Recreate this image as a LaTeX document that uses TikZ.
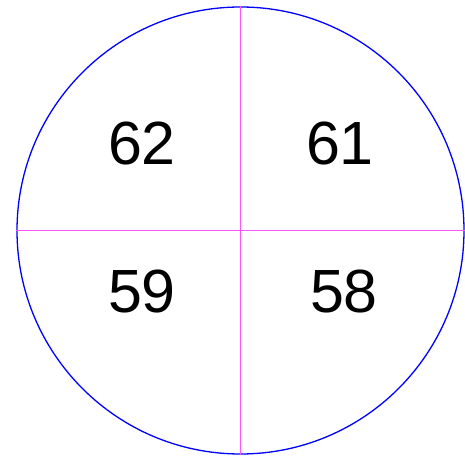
\documentclass[tikz,border=0pt]{standalone}
\usepackage{fontspec}
\setmainfont{Liberation Sans}
\definecolor{divcol}{HTML}{FF55FF}
\begin{document}
\begin{tikzpicture}[x=1pt,y=1pt,
  rim/.style={draw=blue,line width=1.3pt},
  divider/.style={draw=divcol,line width=1pt},
  num/.style={font=\fontsize{61}{61}\selectfont,inner sep=0pt,anchor=center}]
\useasboundingbox (0,0) rectangle (465,457);
\coordinate (c) at (240.5,226.5);
\node[circle,minimum size=447pt,inner sep=0pt,rim] (disc) at (c) {};
\draw[divider] (disc.west) -- (disc.east);
\draw[divider] (disc.north) -- (disc.south);
\node[num] (n62) at (142,313.5) {62};
\node[num] (n61) at (340,313.5) {61};
\node[num] (n59) at (142,165.5) {59};
\node[num] (n58) at (344,165.5) {58};
\end{tikzpicture}
\end{document}
